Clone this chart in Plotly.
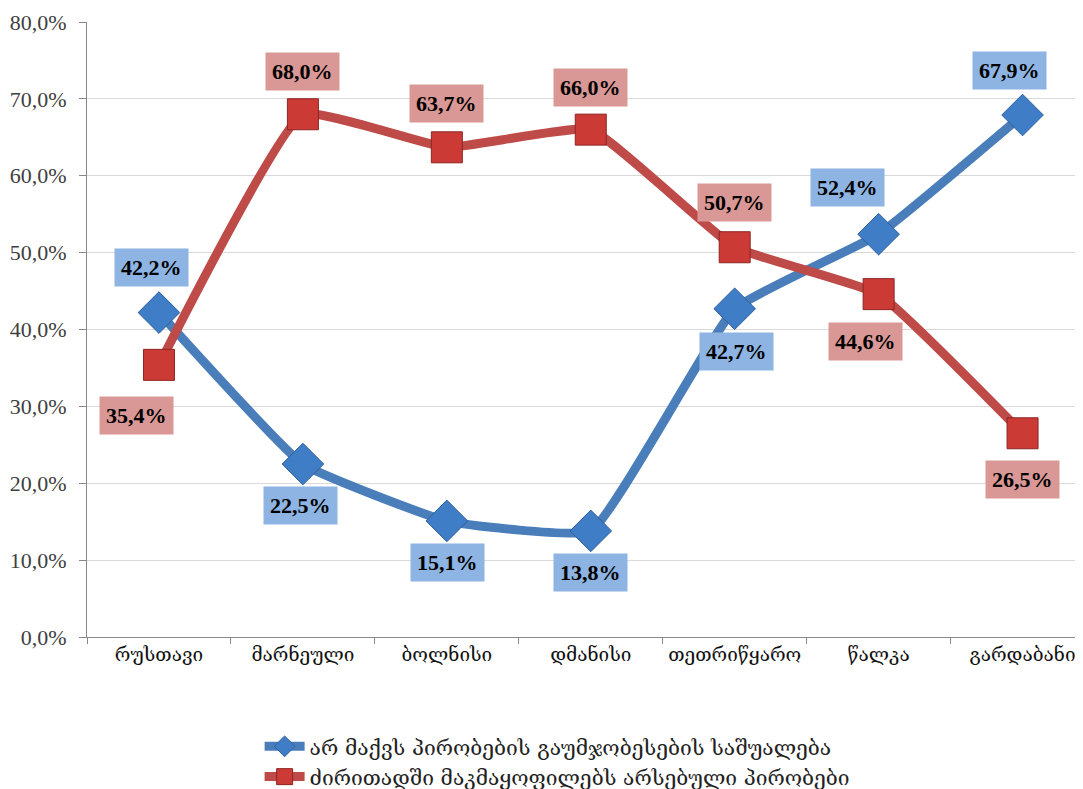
import plotly.graph_objects as go

categories = ["რუსთავი", "მარნეული", "ბოლნისი", "დმანისი", "თეთრიწყარო", "წალკა", "გარდაბანი"]
series1_name = "არ მაქვს პირობების გაუმჯობესების საშუალება"
series2_name = "ძირითადში მაკმაყოფილებს არსებული პირობები"
series1 = [42.2, 22.5, 15.1, 13.8, 42.7, 52.4, 67.9]
series2 = [35.4, 68.0, 63.7, 66.0, 50.7, 44.6, 26.5]
y_ticks = [0, 10, 20, 30, 40, 50, 60, 70, 80]
y_ticktext = [f"{v:.1f}%".replace(".", ",") for v in y_ticks]

# label offsets (pixels): (xshift, yshift)
s1_offsets = [(-7, 45), (-2, -41), (1, -42), (0, -42), (2, -43), (-31, 47), (-13, 45)]
s2_offsets = [(-22, -51), (0, 43), (0, 44), (0, 42), (0, 45), (-13, -47), (0, -46)]

BLUE_LINE = "#4A7EBB"
RED_LINE = "#BE4B48"
BLUE_BOX = "#8DB4E2"
RED_BOX = "#D99795"

fig = go.Figure()
fig.add_trace(go.Scatter(
    x=categories, y=series1, name=series1_name, mode="lines+markers",
    line=dict(color=BLUE_LINE, width=9, shape="spline", smoothing=0.35),
    marker=dict(symbol="diamond", size=32, color="#3F7DC6",
                line=dict(color="#2F5F99", width=1)),
))
fig.add_trace(go.Scatter(
    x=categories, y=series2, name=series2_name, mode="lines+markers",
    line=dict(color=RED_LINE, width=9, shape="spline", smoothing=0.35),
    marker=dict(symbol="square", size=31, color="#CC3A35",
                line=dict(color="#8C2523", width=1)),
))

annotations = []
for vals, offs, bg in [(series1, s1_offsets, BLUE_BOX), (series2, s2_offsets, RED_BOX)]:
    for c, v, (dx, dy) in zip(categories, vals, offs):
        annotations.append(dict(
            x=c, y=v, xref="x", yref="y",
            text=f"{v:.1f}%".replace(".", ","),
            showarrow=False, xshift=dx, yshift=dy,
            bgcolor=bg, borderpad=6,
            font=dict(family="Liberation Serif", size=22, color="black", weight="bold"),
        ))

fig.update_layout(
    width=1075, height=781,
    margin=dict(l=79, r=0, t=14, b=152, autoexpand=False),
    paper_bgcolor="white", plot_bgcolor="white",
    showlegend=True,
    legend=dict(
        orientation="v", x=0.472, xanchor="center", y=-0.145, yanchor="top",
        font=dict(family="DejaVu Serif", size=21, color="#222"),
        tracegroupgap=0, itemwidth=40,
    ),
    annotations=annotations,
    xaxis=dict(
        range=[-0.5, 6.42], showgrid=False, showline=True, linecolor="#888",
        linewidth=1, ticks="outside", tickson="boundaries", ticklen=6,
        tickcolor="#888", automargin=False,
        tickfont=dict(family="DejaVu Serif", size=19, color="#111"),
    ),
    yaxis=dict(
        range=[0, 80], tickvals=y_ticks, ticktext=y_ticktext,
        showgrid=True, gridcolor="#D9D9D9", gridwidth=1,
        showline=True, linecolor="#888", linewidth=1,
        ticks="outside", ticklen=7, tickcolor="#888", automargin=False,
        ticklabelstandoff=8,
        tickfont=dict(family="Liberation Serif", size=22, color="#404040"),
        zeroline=False,
    ),
)

fig.write_html("out.html")
